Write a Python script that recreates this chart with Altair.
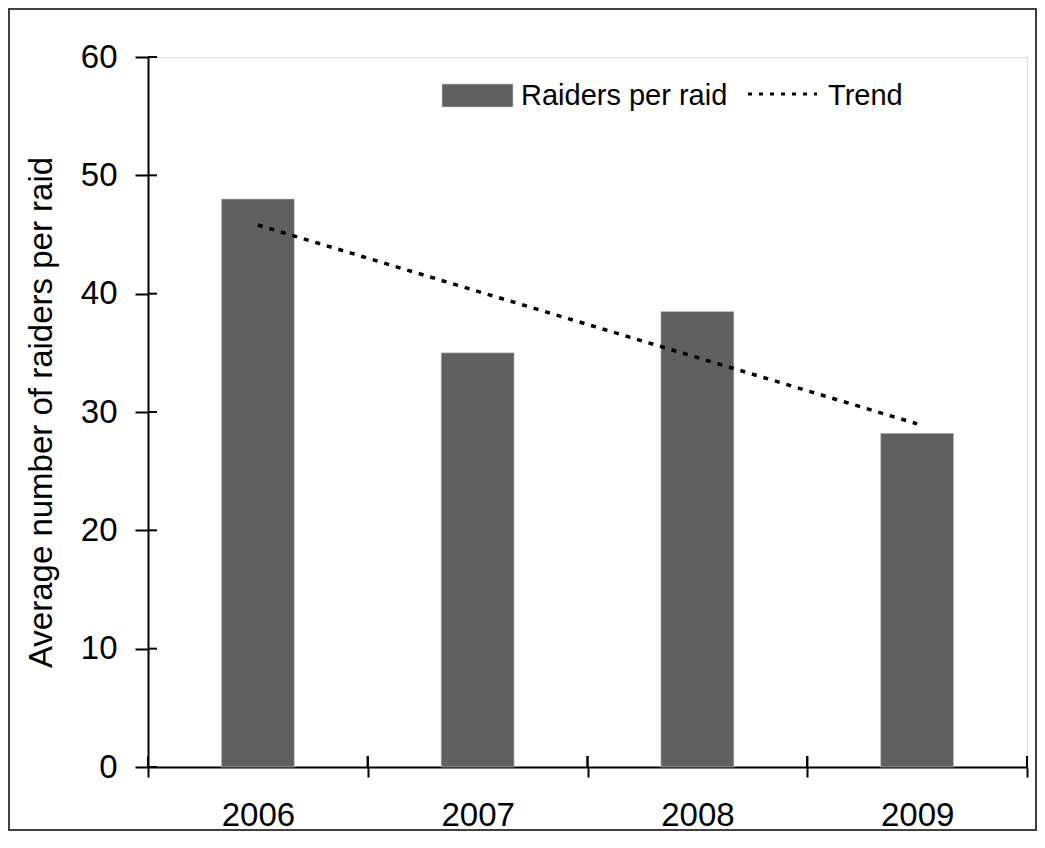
import altair as alt
import pandas as pd

years = ["2006", "2007", "2008", "2009"]
raiders = [48.0, 35.0, 38.5, 28.2]
trend_years = ["2006", "2009"]
trend_values = [45.8, 29.0]
y_ticks = [0, 10, 20, 30, 40, 50, 60]
legend_labels = ["Raiders per raid", "Trend"]
y_title = "Average number of raiders per raid"

W, H = 879, 710
FONT = "Liberation Sans"
BAR = "#606060"

bars_df = pd.DataFrame({"year": years, "value": raiders})
trend_df = pd.DataFrame({"year": trend_years, "value": trend_values})
ticks_df = pd.DataFrame({"value": y_ticks})

xscale = alt.Scale(domain=years, paddingInner=0, paddingOuter=0)
yscale = alt.Scale(domain=[0, 60], nice=False, zero=True)

x_axis = alt.Axis(title=None, tickBand="extent", tickSize=10, tickWidth=2,
                  tickColor="black", domainColor="black", domainWidth=2,
                  labelFontSize=33, labelFont=FONT, labelColor="black",
                  labelPadding=22, labelAngle=0, grid=False)
y_axis = alt.Axis(title=y_title, values=y_ticks, tickSize=13, tickWidth=2,
                  tickColor="black", domainColor="black", domainWidth=2,
                  labelFontSize=33, labelFont=FONT, labelColor="black",
                  labelPadding=18, grid=False, titleFont=FONT,
                  titleFontSize=33, titleFontWeight="normal",
                  titleColor="black", titlePadding=22)

x_enc = alt.X("year:N", scale=xscale, sort=years, axis=x_axis)
y_enc = alt.Y("value:Q", scale=yscale, axis=y_axis)

bars = alt.Chart(bars_df).mark_bar(width=73, color=BAR, stroke="#cfcfcf",
                                   strokeWidth=0.6).encode(x=x_enc, y=y_enc)

trend = alt.Chart(trend_df).mark_line(color="black", strokeWidth=3.5,
                                      strokeDash=[5, 7]).encode(x=x_enc, y=y_enc)

# inward halves of the crossing ticks
y_in = alt.Chart(ticks_df).mark_rule(color="black", strokeWidth=2).encode(
    y=y_enc, x=alt.value(0), x2=alt.value(9))
x_in0 = alt.Chart(bars_df).mark_rule(color="black", strokeWidth=2).encode(
    x=alt.X("year:N", scale=xscale, sort=years, axis=x_axis, bandPosition=0),
    y=alt.value(H - 11), y2=alt.value(H))
x_in1 = alt.Chart(bars_df).mark_rule(color="black", strokeWidth=2).encode(
    x=alt.X("year:N", scale=xscale, sort=years, axis=x_axis, bandPosition=1),
    y=alt.value(H - 11), y2=alt.value(H))

# legend
leg_bar_df = pd.DataFrame({"label": [legend_labels[0]]})
leg_line_df = pd.DataFrame({"label": [legend_labels[1]]})
leg_swatch = alt.Chart(leg_bar_df).mark_rect(color=BAR, stroke="#cfcfcf",
                                             strokeWidth=0.6).encode(
    x=alt.value(294), x2=alt.value(365), y=alt.value(27), y2=alt.value(50))
leg_text1 = alt.Chart(leg_bar_df).mark_text(align="left", baseline="middle",
                                            fontSize=29, font=FONT,
                                            color="black").encode(
    text="label:N", x=alt.value(373), y=alt.value(39))
leg_line = alt.Chart(leg_line_df).mark_rule(color="black", strokeWidth=3,
                                            strokeDash=[4, 7]).encode(
    x=alt.value(600), x2=alt.value(669), y=alt.value(37))
leg_text2 = alt.Chart(leg_line_df).mark_text(align="left", baseline="middle",
                                             fontSize=29, font=FONT,
                                             color="black").encode(
    text="label:N", x=alt.value(680), y=alt.value(39))

# outer frame
frame = alt.Chart(pd.DataFrame({"k": [0]})).mark_rect(
    fillOpacity=0, stroke="#404040", strokeWidth=2).encode(
    x=alt.value(-139), x2=alt.value(888), y=alt.value(-48), y2=alt.value(773))

chart = alt.layer(bars, trend, y_in, x_in0, x_in1, leg_swatch, leg_text1,
                  leg_line, leg_text2, frame).properties(
    width=W, height=H,
    padding={"left": 140, "top": 49, "right": 10, "bottom": 65},
    autosize=alt.AutoSizeParams(type="none"),
).configure_view(stroke=None).configure(background="white")

chart.save("out.html", embed_options={"renderer": "svg", "actions": False})
